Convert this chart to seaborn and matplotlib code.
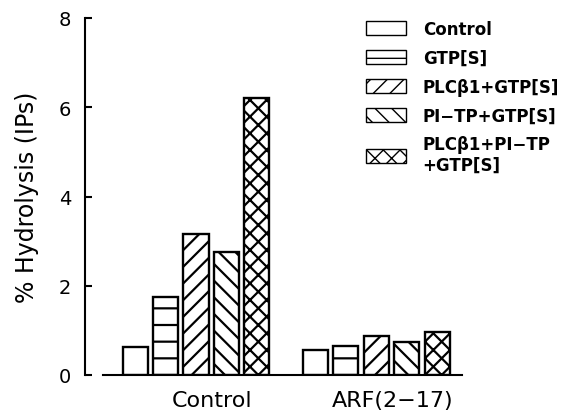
import matplotlib
matplotlib.use("Agg")
import matplotlib.pyplot as plt
import matplotlib.transforms as mtransforms
import seaborn as sns
import pandas as pd

groups = ["Control", "ARF(2−17)"]
treatments = ["Control", "GTP[S]", "PLCβ1+GTP[S]", "PI−TP+GTP[S]", "PLCβ1+PI−TP\n+GTP[S]"]
control_vals = [0.62, 1.74, 3.16, 2.75, 6.21]
arf_vals = [0.55, 0.66, 0.88, 0.75, 0.97]
y_ticks = [0, 2, 4, 6, 8]
hatches = ["", "-", "//", "\\\\", "xx"]

sns.set_style("ticks")
plt.rcParams["font.family"] = ["DejaVu Sans"]
plt.rcParams["hatch.linewidth"] = 1.6
plt.rcParams["hatch.color"] = "black"
plt.rcParams["text.color"] = "black"
plt.rcParams["xtick.color"] = "black"
plt.rcParams["ytick.color"] = "black"
plt.rcParams["axes.labelcolor"] = "black"
plt.rcParams["axes.edgecolor"] = "black"

rows = []
for g, vals in zip(groups, [control_vals, arf_vals]):
    for t, v in zip(treatments, vals):
        rows.append({"group": g, "treatment": t, "value": v})
df = pd.DataFrame(rows)

fig = plt.figure(figsize=(5.66, 4.14), dpi=100)
ax = fig.add_axes([85 / 566, 1 - 376 / 414, (462 - 85) / 566, (376 - 19) / 414])

sns.barplot(data=df, x="group", y="value", hue="treatment", order=groups,
            hue_order=treatments, palette=["white"] * 5, edgecolor="black",
            linewidth=1.7, width=0.844, gap=0.177, legend=False, ax=ax,
            saturation=1, errorbar=None)

for cont, h in zip(ax.containers, hatches):
    for bar in cont:
        bar.set_hatch(h)
        bar.set_edgecolor("black")

ax.set_xlim(-0.616, 1.476)
ax.set_ylim(0, 8)
ax.set_yticks(y_ticks)
ax.set_yticklabels([str(t) for t in y_ticks])
ax.set_xlabel("")
ax.set_ylabel("% Hydrolysis (IPs)", fontsize=17, labelpad=14)

sns.despine(ax=ax)
ax.spines["left"].set_linewidth(1.5)
ax.spines["bottom"].set_linewidth(1.5)
ax.spines["bottom"].set_bounds(-0.517, 1.476)

ax.tick_params(axis="y", direction="in", length=5, width=1.5, labelsize=14, pad=10)
ax.tick_params(axis="x", length=0, labelsize=16, pad=11)

offset = mtransforms.ScaledTranslation(16 / 100, 0, fig.dpi_scale_trans)
for lab in ax.get_xticklabels():
    lab.set_transform(lab.get_transform() + offset)

leg = fig.legend(handles=list(ax.containers), labels=treatments,
                 loc="upper left", bbox_to_anchor=(366 / 566, 1 - 21 / 414),
                 frameon=False, borderpad=0, borderaxespad=0,
                 prop={"size": 12, "weight": "bold"},
                 handlelength=2.4, handleheight=0.9, handletextpad=1.0,
                 labelspacing=0.65)
for h in leg.legend_handles:
    h.set_linewidth(1.0)
    if hasattr(h, "set_hatch_linewidth"):
        h.set_hatch_linewidth(1.0)

fig.savefig("out.png", dpi=100)
